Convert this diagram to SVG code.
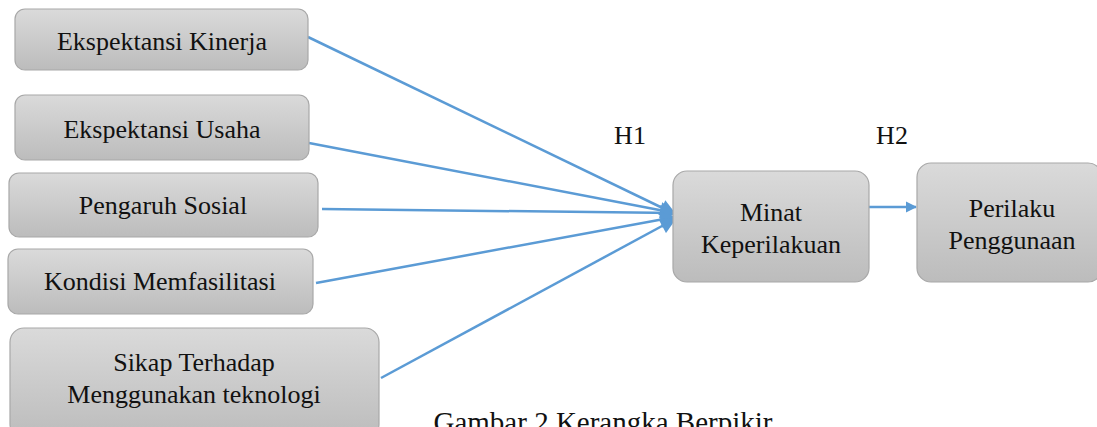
<svg xmlns="http://www.w3.org/2000/svg" width="1097" height="427" viewBox="0 0 1097 427">
<defs>
<linearGradient id="g" x1="0" y1="0" x2="0" y2="1">
<stop offset="0" stop-color="#dadada"/>
<stop offset="1" stop-color="#bcbcbc"/>
</linearGradient>
<marker id="ah" viewBox="0 0 10 10" refX="9" refY="5" markerWidth="7" markerHeight="6.5" markerUnits="strokeWidth" orient="auto">
<path d="M0,0 L10,5 L0,10 z" fill="#5b9bd5"/>
</marker>
<marker id="ah2" viewBox="0 0 10 10" refX="9" refY="5" markerWidth="4.5" markerHeight="6" markerUnits="strokeWidth" orient="auto">
<path d="M0,0 L10,5 L0,10 z" fill="#5b9bd5"/>
</marker>
</defs>
<style>
.box{fill:url(#g);stroke:#a8a8a8;stroke-width:1.2}
.t{font-family:"Liberation Serif","Times New Roman",serif;font-size:26px;fill:#111;text-anchor:middle}
.c{stroke:#5b9bd5;stroke-width:2.5;fill:none}
</style>
<rect width="1097" height="427" fill="#fff"/>
<g id="connectors">
<line class="c" x1="308" y1="37" x2="675" y2="214" marker-end="url(#ah)"/>
<line class="c" x1="309" y1="143" x2="675" y2="213" marker-end="url(#ah)"/>
<line class="c" x1="322" y1="209" x2="675" y2="213" marker-end="url(#ah)"/>
<line class="c" x1="316" y1="283" x2="675" y2="217" marker-end="url(#ah)"/>
<line class="c" x1="381" y1="378" x2="675" y2="219" marker-end="url(#ah)"/>
<line class="c" x1="869" y1="207" x2="916" y2="207" marker-end="url(#ah2)"/>
</g>
<g id="n1"><rect class="box" x="15" y="9" width="293" height="61" rx="10"/><text class="t" x="162" y="50">Ekspektansi Kinerja</text></g>
<g id="n2"><rect class="box" x="15" y="95" width="294" height="65" rx="10"/><text class="t" x="162" y="138">Ekspektansi Usaha</text></g>
<g id="n3"><rect class="box" x="9" y="173" width="309" height="64" rx="10"/><text class="t" x="163" y="214">Pengaruh Sosial</text></g>
<g id="n4"><rect class="box" x="8" y="249" width="305" height="65" rx="10"/><text class="t" x="160" y="290">Kondisi Memfasilitasi</text></g>
<g id="n5"><rect class="box" x="10" y="328" width="369" height="110" rx="14"/><text class="t" x="194" y="371">Sikap Terhadap</text><text class="t" x="194" y="403">Menggunakan teknologi</text></g>
<g id="n6"><rect class="box" x="673" y="171" width="196" height="111" rx="14"/><text class="t" x="771" y="221">Minat</text><text class="t" x="771" y="253">Keperilakuan</text></g>
<g id="n7"><rect class="box" x="917" y="163" width="185" height="119" rx="14"/><text class="t" x="1012" y="217">Perilaku</text><text class="t" x="1012" y="249">Penggunaan</text></g>
<g id="labels">
<text class="t" x="630" y="144">H1</text>
<text class="t" x="892" y="144">H2</text>
<text class="t" x="603" y="432" style="font-size:29px">Gambar 2 Kerangka Berpikir</text>
</g>
</svg>
